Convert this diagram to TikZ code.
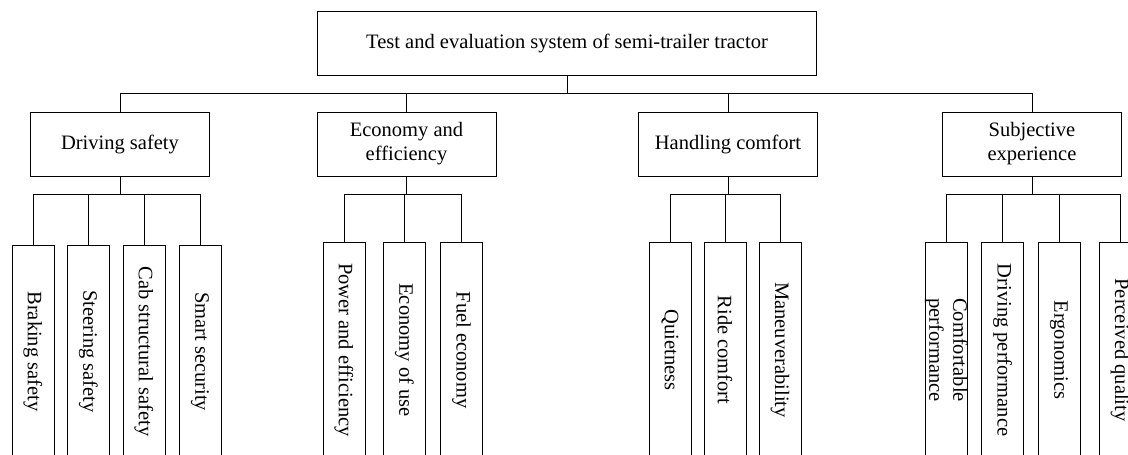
\documentclass[tikz,border=0pt]{standalone}
\usepackage{fontspec}
\setmainfont{Liberation Serif}
\begin{document}
\begin{tikzpicture}[x=1pt,y=-1pt, line width=1pt,
  box/.style={draw, inner sep=0pt, align=center, font=\fontsize{20.5}{24}\selectfont},
  rootbox/.style={box, minimum width=499pt, minimum height=64pt},
  mid/.style={box, minimum width=179pt, minimum height=64pt},
  leaf/.style={box, rotate=-90, minimum width=216pt, minimum height=42pt},
  link/.style={draw}]
\useasboundingbox (0,0) rectangle (1128,455);
\clip (0,0) rectangle (1128,455);
% root
\node[rootbox] (top) at (567,43) {Test and evaluation system of semi-trailer tractor};
% second level
\node[mid] (ds) at (120,144) {Driving safety};
\node[mid] (ee) at (406.5,144) {Economy and\\efficiency};
\node[mid] (hc) at (728,144) {Handling comfort};
\node[mid] (se) at (1032,144) {Subjective\\experience};
% leaves: driving safety
\node[leaf, minimum width=213pt] (d1) at (33,351.5) {Braking safety};
\node[leaf, minimum width=213pt] (d2) at (88.5,351.5) {Steering safety};
\node[leaf, minimum width=213pt] (d3) at (144,351.5) {Cab structural safety};
\node[leaf, minimum width=213pt] (d4) at (200,351.5) {Smart security};
% leaves: economy
\node[leaf] (e1) at (344,350) {Power and efficiency};
\node[leaf] (e2) at (404.5,350) {Economy of use};
\node[leaf] (e3) at (461.5,350) {Fuel economy};
% leaves: handling
\node[leaf] (h1) at (670,350) {Quietness};
\node[leaf] (h2) at (725,350) {Ride comfort};
\node[leaf] (h3) at (780,350) {Maneuverability};
% leaves: subjective
\node[leaf] (s1) at (946,350) {\raisebox{-5pt}[0pt][0pt]{\begin{tabular}{@{}c@{}}Comfortable\\performance\end{tabular}}};
\node[leaf] (s2) at (1002.5,350) {Driving performance};
\node[leaf] (s3) at (1059,350) {Ergonomics};
\node[leaf] (s4) at (1120,350) {Perceived quality};
% connectors
\coordinate (b0) at (top.south |- 0,93);
\draw[link] (top.south) -- (b0);
\foreach \c in {ds,ee,hc,se} \draw[link] (\c.north) |- (b0);
\coordinate (bd) at (ds.south |- 0,194);
\draw[link] (ds.south) -- (bd);
\foreach \c in {d1,d2,d3,d4} \draw[link] (\c.west) |- (bd);
\coordinate (be) at (ee.south |- 0,194);
\draw[link] (ee.south) -- (be);
\foreach \c in {e1,e2,e3} \draw[link] (\c.west) |- (be);
\coordinate (bh) at (hc.south |- 0,194);
\draw[link] (hc.south) -- (bh);
\foreach \c in {h1,h2,h3} \draw[link] (\c.west) |- (bh);
\coordinate (bs) at (se.south |- 0,194);
\draw[link] (se.south) -- (bs);
\foreach \c in {s1,s2,s3,s4} \draw[link] (\c.west) |- (bs);
\end{tikzpicture}
\end{document}
